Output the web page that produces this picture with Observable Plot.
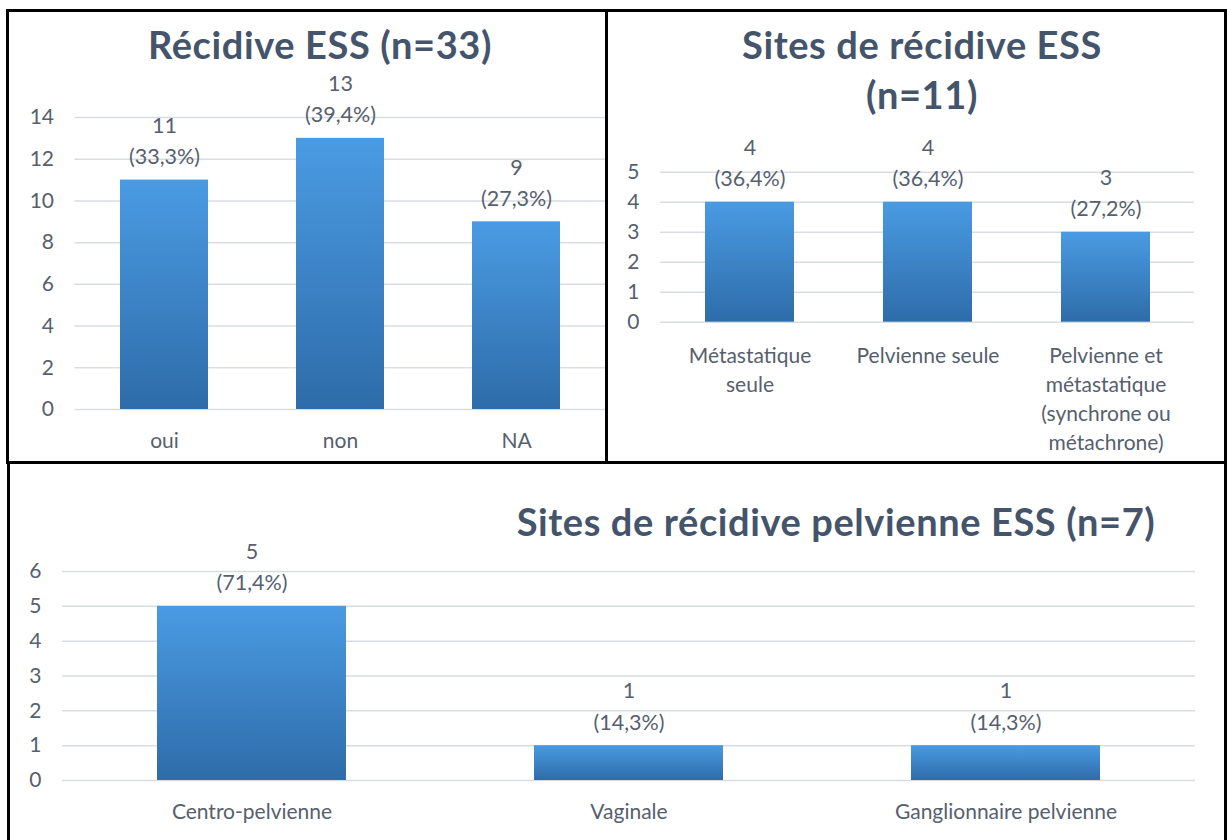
<!DOCTYPE html>
<html><head><meta charset="utf-8">
<script src="https://cdn.jsdelivr.net/npm/d3@7"></script>
<script src="https://cdn.jsdelivr.net/npm/@observablehq/plot@0.6"></script>
<style>
body{margin:0;background:#fff;}
#page{position:relative;width:1227px;height:840px;overflow:hidden;background:#fff;font-family:Lato,sans-serif;}
.box{position:absolute;border:3px solid #000;box-sizing:border-box;}
.title{position:absolute;text-align:center;font-weight:700;font-size:38px;letter-spacing:0.6px;line-height:50px;color:#44546a;white-space:nowrap;}
.chart{position:absolute;}
</style></head><body><div id="page"></div>
<script>
// ---- Data ----
const recidiveCats = ["oui", "non", "NA"];
const recidiveCounts = [11, 13, 9];
const recidivePcts = ["33,3%", "39,4%", "27,3%"];
const recidiveTicks = [0, 2, 4, 6, 8, 10, 12, 14];

const sitesCats = ["Métastatique seule", "Pelvienne seule", "Pelvienne et métastatique (synchrone ou métachrone)"];
const sitesTickLabels = ["Métastatique\nseule", "Pelvienne seule", "Pelvienne et\nmétastatique\n(synchrone ou\nmétachrone)"];
const sitesCounts = [4, 4, 3];
const sitesPcts = ["36,4%", "36,4%", "27,2%"];
const sitesTicks = [0, 1, 2, 3, 4, 5];

const pelvCats = ["Centro-pelvienne", "Vaginale", "Ganglionnaire pelvienne"];
const pelvCounts = [5, 1, 1];
const pelvPcts = ["71,4%", "14,3%", "14,3%"];
const pelvTicks = [0, 1, 2, 3, 4, 5, 6];

const titles = [
  {text: "Récidive ESS (n=33)", cx: 320, top: 19},
  {text: "Sites de récidive ESS<br>(n=11)", cx: 922, top: 19},
  {text: "Sites de récidive pelvienne ESS (n=7)", cx: 836, top: 496}
];

const page = document.getElementById("page");
const textColor = "#56606e";

function addBox(l, t, w, h) {
  const d = document.createElement("div");
  d.className = "box";
  Object.assign(d.style, {left: l + "px", top: t + "px", width: w + "px", height: h + "px"});
  page.appendChild(d);
}

function barPanel({id, cats, counts, pcts, ticks, tickLabels, left, top, width, height, margin, labelPadding, axisLineHeight}) {
  const data = cats.map((c, i) => ({cat: c, n: counts[i], label: `${counts[i]}\n(${pcts[i]})`}));
  const gid = "grad-" + id;
  const labelOf = new Map(cats.map((c, i) => [c, tickLabels ? tickLabels[i] : c]));
  const svg = Plot.plot({
    width, height,
    marginTop: margin[0], marginRight: margin[1], marginBottom: margin[2], marginLeft: margin[3],
    style: {fontFamily: "Lato, sans-serif", fontSize: "21px", color: textColor, background: "transparent", overflow: "visible"},
    x: {domain: cats, paddingInner: 0.5, paddingOuter: 0.25, label: null},
    y: {domain: [0, d3.max(ticks)], label: null},
    marks: [
      () => {
        const defs = d3.create("svg:defs");
        const g = defs.append("linearGradient").attr("id", gid).attr("x1", 0).attr("y1", 0).attr("x2", 0).attr("y2", 1);
        g.append("stop").attr("offset", "0%").attr("stop-color", "#4a9be3");
        g.append("stop").attr("offset", "100%").attr("stop-color", "#2e6ca9");
        return defs.node();
      },
      Plot.gridY(ticks, {stroke: "#d9dde3", strokeOpacity: 1, strokeWidth: 1.5}),
      Plot.barY(data, {x: "cat", y: "n", fill: `url(#${gid})`}),
      Plot.text(data, {x: "cat", y: "n", text: "label", lineAnchor: "bottom", dy: -16, lineHeight: 1.45, fill: textColor, fontSize: 21.5}),
      Plot.axisY(ticks, {tickSize: 0, tickPadding: 21, label: null, fontSize: 21, fill: textColor}),
      Plot.axisX({tickSize: 0, tickPadding: labelPadding, tickFormat: d => labelOf.get(d), lineHeight: axisLineHeight, label: null, fontSize: 21, fill: textColor})
    ]
  });
  const wrap = document.createElement("div");
  wrap.className = "chart";
  Object.assign(wrap.style, {left: left + "px", top: top + "px"});
  wrap.appendChild(svg);
  page.appendChild(wrap);
}

barPanel({id: "a", cats: recidiveCats, counts: recidiveCounts, pcts: recidivePcts, ticks: recidiveTicks,
  left: 8, top: 12, width: 597, height: 449, margin: [105, 0, 52, 66.5], labelPadding: 18, axisLineHeight: 1.38});
barPanel({id: "b", cats: sitesCats, counts: sitesCounts, pcts: sitesPcts, ticks: sitesTicks, tickLabels: sitesTickLabels,
  left: 608, top: 13, width: 616, height: 448, margin: [158.7, 30, 139.3, 52], labelPadding: 20, axisLineHeight: 1.38});
barPanel({id: "c", cats: pelvCats, counts: pelvCounts, pcts: pelvPcts, ticks: pelvTicks,
  left: 11, top: 466, width: 1212, height: 374, margin: [105, 28, 60, 51], labelPadding: 17.5, axisLineHeight: 1.38});

for (const t of titles) {
  const d = document.createElement("div");
  d.className = "title";
  d.innerHTML = t.text;
  Object.assign(d.style, {left: (t.cx - 400) + "px", width: "800px", top: t.top + "px"});
  page.appendChild(d);
}

addBox(6, 9, 602, 455);
addBox(605, 9, 622, 455);
addBox(7, 461, 1220, 400);
</script></body></html>
